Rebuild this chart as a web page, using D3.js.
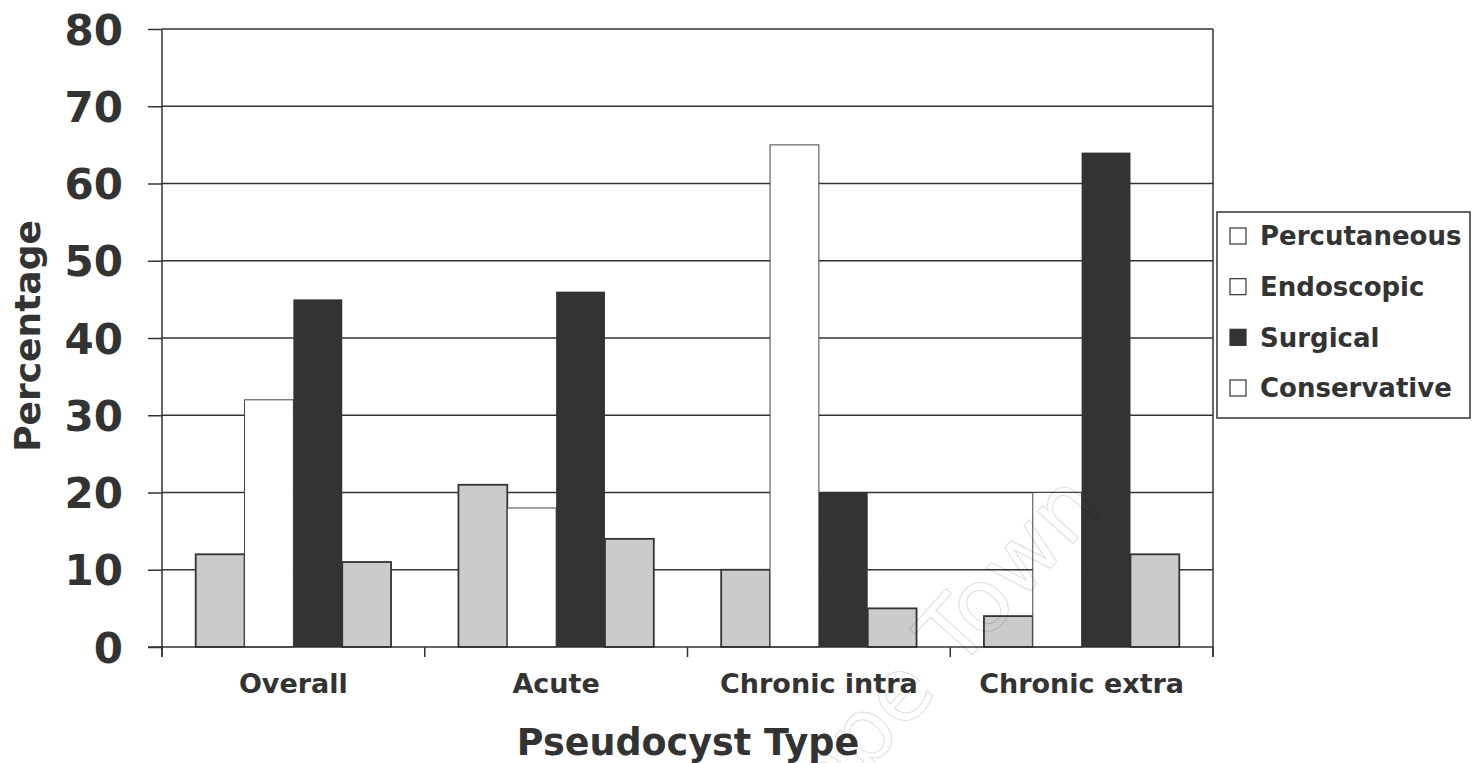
<!DOCTYPE html>
<html>
<head>
<meta charset="utf-8">
<script src="https://cdn.jsdelivr.net/npm/d3@7"></script>
<style>
  html, body { margin: 0; padding: 0; background: #fff; }
  svg { display: block; }
  text { font-family: "DejaVu Sans", Verdana, sans-serif; font-weight: bold; fill: #333; }
</style>
</head>
<body>
<svg id="chart" width="1478" height="763"></svg>
<script>
const categories = ["Overall", "Acute", "Chronic intra", "Chronic extra"];
const seriesNames = ["Percutaneous", "Endoscopic", "Surgical", "Conservative"];
const percutaneous = [12, 21, 10, 4];
const endoscopic   = [32, 18, 65, 20];
const surgical     = [45, 46, 20, 64];
const conservative = [11, 14, 5, 12];
const yTicks = [0, 10, 20, 30, 40, 50, 60, 70, 80];
const seriesValues = [percutaneous, endoscopic, surgical, conservative];
const fills = ["#cbcbcb", "#ffffff", "#333333", "#cbcbcb"];
const strokes = ["#333", "#444", "none", "#333"];
const strokeW = [1.8, 1, 0, 1.8];
const legendFills = ["#fff", "#fff", "#333", "#fff"];

const svg = d3.select("#chart");
const L = 162, R = 1213, T = 29, B = 647;

const y = d3.scaleLinear().domain([0, 80]).range([B, T]);
const x0 = d3.scaleBand().domain(categories).range([L, R]).padding(0);
const x1 = d3.scaleBand().domain(seriesNames).range([33.7, x0.bandwidth() - 33.7]).padding(0);

// gridlines
svg.append("g").selectAll("line").data(yTicks.filter(d => d > 0)).join("line")
  .attr("x1", L).attr("x2", R)
  .attr("y1", d => y(d)).attr("y2", d => y(d))
  .attr("stroke", "#333").attr("stroke-width", 1.5);

// right border
svg.append("line").attr("x1", R).attr("x2", R).attr("y1", T).attr("y2", B + 10)
  .attr("stroke", "#333").attr("stroke-width", 1.5);

// bars
const data = [];
categories.forEach((c, i) => seriesNames.forEach((s, j) => data.push({c, s, j, v: seriesValues[j][i]})));
svg.append("g").selectAll("rect").data(data).join("rect")
  .attr("x", d => x0(d.c) + x1(d.s))
  .attr("width", x1.bandwidth())
  .attr("y", d => y(d.v))
  .attr("height", d => y(0) - y(d.v))
  .attr("fill", d => fills[d.j])
  .attr("stroke", d => strokes[d.j])
  .attr("stroke-width", d => strokeW[d.j]);

// y axis
const yAxis = d3.axisLeft(y).tickValues(yTicks).tickSize(14).tickPadding(25);
const gy = svg.append("g").attr("transform", `translate(${L},0)`).call(yAxis);
gy.select(".domain").attr("stroke", "#333").attr("stroke-width", 1.5)
  .attr("d", `M0,${T}V${B + 10}`);
gy.selectAll(".tick line").attr("stroke", "#333").attr("stroke-width", 1.5);
gy.selectAll(".tick text").style("font-size", "42px").style("font-family", "'DejaVu Sans', Verdana, sans-serif")
  .style("font-weight", "bold").attr("fill", "#333").attr("dy", "0.36em");

// x axis
const gx = svg.append("g").attr("transform", `translate(0,${B})`);
gx.append("line").attr("x1", L - 14).attr("x2", R).attr("y1", 0).attr("y2", 0)
  .attr("stroke", "#333").attr("stroke-width", 1.5);
const bounds = categories.map(c => x0(c)).concat([R]);
gx.selectAll("line.tk").data(bounds).join("line").attr("class", "tk")
  .attr("x1", d => d).attr("x2", d => d).attr("y1", 0).attr("y2", 10)
  .attr("stroke", "#333").attr("stroke-width", 1.5);
gx.selectAll("text.cat").data(categories).join("text").attr("class", "cat")
  .attr("x", d => x0(d) + x0.bandwidth() / 2)
  .attr("y", 46)
  .attr("text-anchor", "middle")
  .style("font-size", "27px")
  .text(d => d);

// axis titles
svg.append("text").attr("x", 688).attr("y", 755).attr("text-anchor", "middle")
  .style("font-size", "36.5px").text("Pseudocyst Type");
svg.append("text").attr("transform", "translate(40,336) rotate(-90)").attr("text-anchor", "middle")
  .style("font-size", "36px").text("Percentage");

// legend
const lg = svg.append("g");
lg.append("rect").attr("x", 1217).attr("y", 212).attr("width", 253).attr("height", 206)
  .attr("fill", "#fff").attr("stroke", "#333").attr("stroke-width", 1.5);
const ly = d3.scalePoint().domain(seriesNames).range([236, 388]);
lg.selectAll("rect.sw").data(seriesNames).join("rect").attr("class", "sw")
  .attr("x", 1230).attr("y", d => ly(d) - 8).attr("width", 16).attr("height", 16)
  .attr("fill", (d, i) => legendFills[i]).attr("stroke", "#333").attr("stroke-width", 1.2);
lg.selectAll("text").data(seriesNames).join("text")
  .attr("x", 1260).attr("y", d => ly(d)).attr("dy", "0.36em")
  .style("font-size", "26px").text(d => d);

// faint watermark
svg.append("text")
  .attr("transform", "translate(1105,508) rotate(-48)")
  .attr("text-anchor", "end")
  .style("font-size", "88px").style("font-weight", "normal")
  .style("fill", "none").style("stroke", "#000").style("stroke-opacity", 0.12).style("stroke-width", 1.2)
  .text("Cape Town");
</script>
</body>
</html>
